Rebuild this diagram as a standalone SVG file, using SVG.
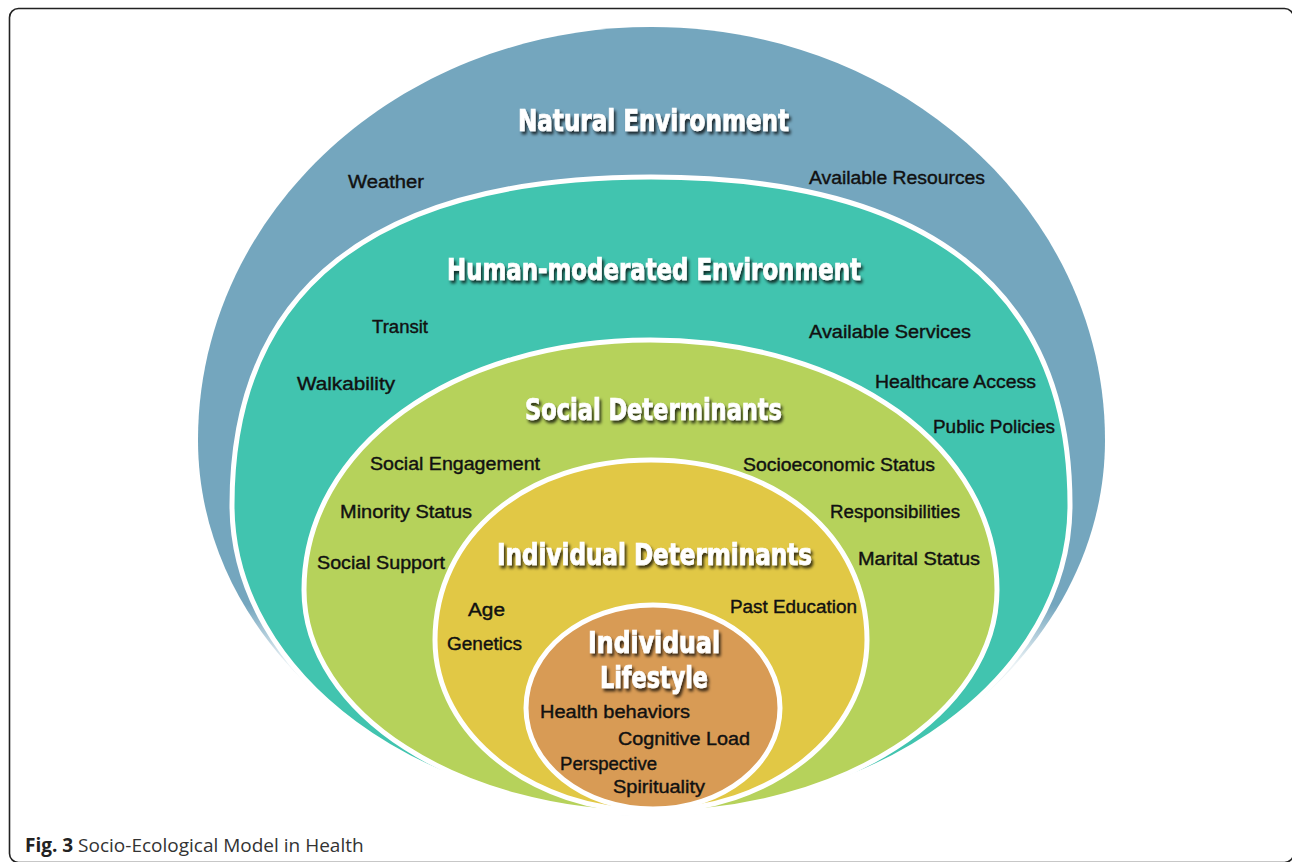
<svg xmlns="http://www.w3.org/2000/svg" width="1292" height="862" viewBox="0 0 1292 862">
<style>
.ring{stroke:#fff;stroke-width:5}
.hd{font-family:"Liberation Sans Narrow","DejaVu Sans Condensed","Liberation Sans",sans-serif;font-weight:bold;font-size:30px;fill:#fff;stroke:#fff;stroke-width:0.7;text-anchor:middle;filter:url(#sh)}
.it{font-family:"Liberation Sans","DejaVu Sans",sans-serif;font-size:18px;fill:#111;stroke:#111;stroke-width:0.4}
.cap{font-family:"Open Sans","Liberation Sans",sans-serif;font-size:19px;fill:#333}
</style>
<defs>
<filter id="sh" x="-10%" y="-30%" width="120%" height="170%">
<feDropShadow dx="2" dy="3" stdDeviation="1.6" flood-color="#000" flood-opacity="0.75"/>
</filter>
<linearGradient id="fg" gradientUnits="userSpaceOnUse" x1="0" y1="605" x2="0" y2="665">
<stop offset="0" stop-color="#fff"/>
<stop offset="1" stop-color="#222"/>
</linearGradient>
<mask id="fade" maskUnits="userSpaceOnUse" x="0" y="0" width="1292" height="862">
<rect x="0" y="0" width="1292" height="862" fill="url(#fg)"/>
</mask>
</defs>
<rect x="9.5" y="8.5" width="1284" height="854" rx="9" fill="#fff" stroke="#222" stroke-width="1.6"/>
<g id="natural-environment">
<path mask="url(#fade)" d="M651.5,27 C901.8,27 1105,212 1105,440 C1105,647.6 901.8,816 651.5,816 C401.2,816 198,647.6 198,440 C198,212 401.2,27 651.5,27Z" fill="#74A6BE"/>
<text class="hd" x="653.5" y="131" textLength="271" lengthAdjust="spacingAndGlyphs">Natural Environment</text>
<text class="it" x="348" y="188" textLength="76" lengthAdjust="spacingAndGlyphs">Weather</text>
<text class="it" x="809" y="184" textLength="176" lengthAdjust="spacingAndGlyphs">Available Resources</text>
</g>
<g id="human-moderated-environment">
<path class="ring" d="M651,177 C927.5,177 1070,288.5 1070,505 C1070,675.6 882.3,814 651,814 C419.7,814 232,675.6 232,505 C232,288.5 374.5,177 651,177Z" fill="#41C4AF"/>
<text class="hd" x="654" y="280" textLength="414" lengthAdjust="spacingAndGlyphs">Human-moderated Environment</text>
<text class="it" x="372" y="333" textLength="56" lengthAdjust="spacingAndGlyphs">Transit</text>
<text class="it" x="809" y="338" textLength="162" lengthAdjust="spacingAndGlyphs">Available Services</text>
<text class="it" x="297" y="390" textLength="98" lengthAdjust="spacingAndGlyphs">Walkability</text>
<text class="it" x="875" y="388" textLength="161" lengthAdjust="spacingAndGlyphs">Healthcare Access</text>
<text class="it" x="933" y="433" textLength="122" lengthAdjust="spacingAndGlyphs">Public Policies</text>
</g>
<g id="social-determinants">
<path class="ring" d="M650.5,340 C848,340 997,447.5 997,590 C997,713.1 841.8,813 650.5,813 C459.2,813 304,713.1 304,590 C304,447.5 453,340 650.5,340Z" fill="#B6D25B"/>
<text class="hd" x="653.5" y="420" textLength="257" lengthAdjust="spacingAndGlyphs">Social Determinants</text>
<text class="it" x="370" y="470" textLength="170" lengthAdjust="spacingAndGlyphs">Social Engagement</text>
<text class="it" x="743" y="471" textLength="192" lengthAdjust="spacingAndGlyphs">Socioeconomic Status</text>
<text class="it" x="340" y="518" textLength="132" lengthAdjust="spacingAndGlyphs">Minority Status</text>
<text class="it" x="830" y="518" textLength="130" lengthAdjust="spacingAndGlyphs">Responsibilities</text>
<text class="it" x="317" y="569" textLength="128" lengthAdjust="spacingAndGlyphs">Social Support</text>
<text class="it" x="858" y="565" textLength="122" lengthAdjust="spacingAndGlyphs">Marital Status</text>
</g>
<g id="individual-determinants">
<path class="ring" d="M651,460 C776.3,460 867,535.6 867,640 C867,734.4 770.2,811 651,811 C531.8,811 435,734.4 435,640 C435,535.6 525.7,460 651,460Z" fill="#E1C845"/>
<text class="hd" x="654.5" y="565" textLength="315" lengthAdjust="spacingAndGlyphs">Individual Determinants</text>
<text class="it" x="468" y="616" textLength="37" lengthAdjust="spacingAndGlyphs">Age</text>
<text class="it" x="447" y="650" textLength="75" lengthAdjust="spacingAndGlyphs">Genetics</text>
<text class="it" x="730" y="613" textLength="127" lengthAdjust="spacingAndGlyphs">Past Education</text>
</g>
<g id="individual-lifestyle">
<path class="ring" d="M653,605 C723.1,605 780,651.1 780,708 C780,763.8 723.1,809 653,809 C582.9,809 526,763.8 526,708 C526,651.1 582.9,605 653,605Z" fill="#D89B55"/>
<text class="hd" x="654" y="653" textLength="132" lengthAdjust="spacingAndGlyphs">Individual</text>
<text class="hd" x="654" y="688" textLength="108" lengthAdjust="spacingAndGlyphs">Lifestyle</text>
<text class="it" x="540" y="718" textLength="150" lengthAdjust="spacingAndGlyphs">Health behaviors</text>
<text class="it" x="618" y="745" textLength="132" lengthAdjust="spacingAndGlyphs">Cognitive Load</text>
<text class="it" x="560" y="770" textLength="97" lengthAdjust="spacingAndGlyphs">Perspective</text>
<text class="it" x="613" y="793" textLength="92" lengthAdjust="spacingAndGlyphs">Spirituality</text>
</g>
<text class="cap" x="25" y="852"><tspan font-weight="bold" fill="#222">Fig. 3</tspan> Socio-Ecological Model in Health</text>
</svg>
